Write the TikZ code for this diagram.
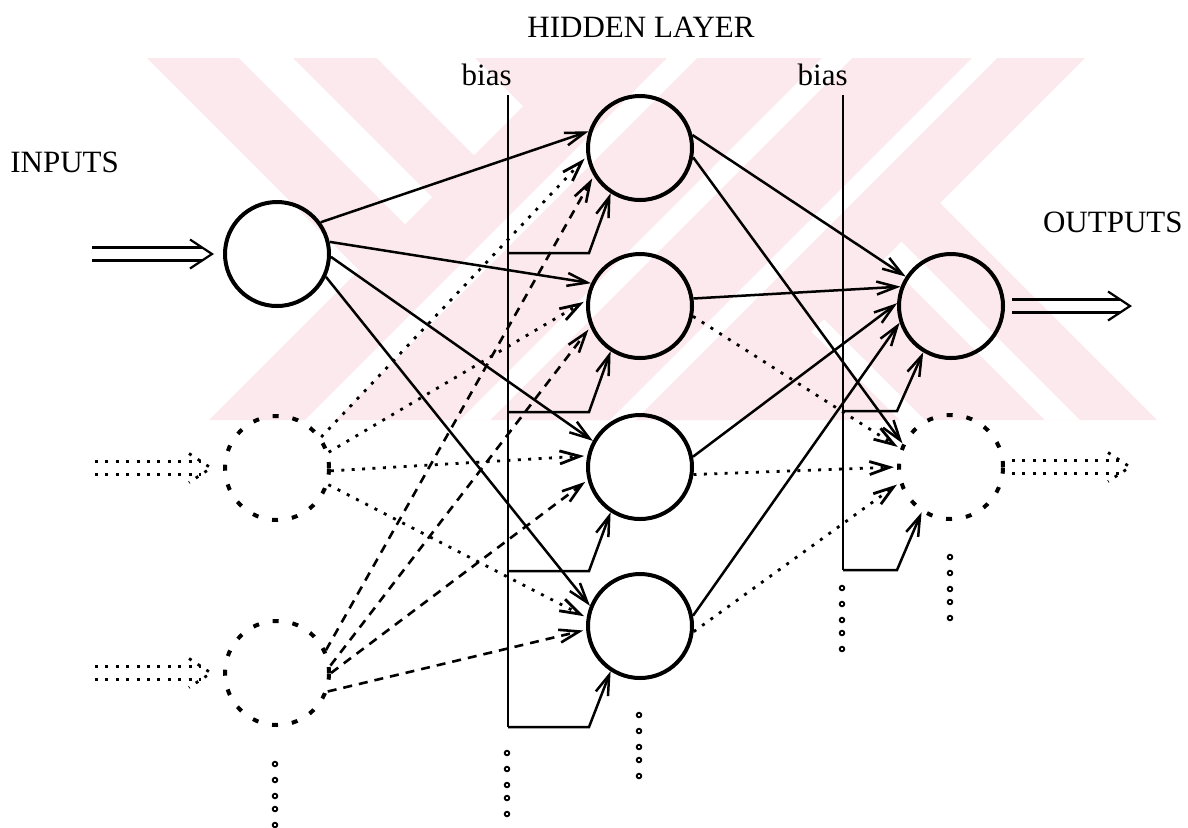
\documentclass[tikz,border=0pt]{standalone}
\usepackage{fontspec}
\setmainfont{Liberation Serif}
\usetikzlibrary{arrows.meta}
\definecolor{wmpink}{RGB}{252,233,237}
\newcommand\dblarrow[3]{%
  \draw[#1] ([yshift=3.25pt]#2) -- ([yshift=3.25pt,xshift=-4.9pt]#3);
  \draw[#1] ([yshift=-3.25pt]#2) -- ([yshift=-3.25pt,xshift=-4.9pt]#3);
  \draw[#1] ([xshift=-11pt,yshift=7.25pt]#3) -- (#3) -- ([xshift=-11pt,yshift=-7.25pt]#3);
}
\begin{document}
\begin{tikzpicture}[x=0.5pt,y=-0.5pt,
  neuron/.style={circle,draw,line width=2pt,minimum size=52pt,inner sep=0pt},
  dneuron/.style={neuron,dash pattern=on 3pt off 7pt},
  tipv/.style={-{Straight Barb[length=10pt,width=6.5pt]}},
  conn/.style={line width=1.25pt,tipv},
  dotconn/.style={conn,line width=1.4pt,dash pattern=on 1.5pt off 3.7pt,shorten >=1.5pt},
  dashconn/.style={conn,line width=1.3pt,dash pattern=on 4.5pt off 3.5pt,shorten >=1.5pt},
  biasline/.style={line width=1.2pt},
  dbl/.style={line width=1.1pt},
  dbldot/.style={line width=1.4pt,dash pattern=on 1.5pt off 3.7pt},
  lbl/.style={font=\fontsize{15.5}{18}\selectfont,inner sep=0pt},
  ring/.style={line width=0.9pt},
  wm/.style={fill=wmpink}
]
\useasboundingbox (0,0) rectangle (1188,827);

% watermark
\begin{scope}
  \clip (0,58) rectangle (1188,420);
  \fill[wm] (147,58) -- (795,58) -- (1157,420) -- (509,420) -- cycle;
  \fill[wm] (571,58) -- (1085,58) -- (723,420) -- (209,420) -- cycle;
  \begin{scope}
    \clip (0,0) -- (629,0) -- (0,629) -- cycle;
    \fill[white] (239,58) -- (293,58) -- (655,420) -- (601,420) -- cycle;
    \fill[white] (377,58) -- (475,58) -- (837,420) -- (739,420) -- cycle;
  \end{scope}
  \begin{scope}
    \clip (1143,0) -- (2000,0) -- (2000,1000) -- (143,1000) -- cycle;
    \fill[white] (538,58) -- (563,58) -- (925,420) -- (900,420) -- cycle;
    \fill[white] (683,58) -- (718,58) -- (1080,420) -- (1045,420) -- cycle;
  \end{scope}
  \fill[white] (667,58) -- (697,58) -- (335,420) -- (305,420) -- cycle;
  \fill[white] (822,58) -- (852,58) -- (490,420) -- (460,420) -- cycle;
  \fill[white] (972,58) -- (997,58) -- (635,420) -- (610,420) -- cycle;
\end{scope}

% labels
\node[lbl,anchor=base] (hl) at (641,37) {HIDDEN LAYER};
\node[lbl,anchor=base west] (inl) at (10,172) {INPUTS};
\node[lbl,anchor=base east] (outl) at (1183,232) {OUTPUTS};
\node[lbl,anchor=base east] (bl1) at (512,85) {bias};
\node[lbl,anchor=base east] (bl2) at (848,85) {bias};

% neurons
\node[neuron] (i1) at (277,254) {};
\node[dneuron] (i2) at (277,468) {};
\node[dneuron] (i3) at (277,673) {};
\node[neuron] (h1) at (640,148) {};
\node[neuron] (h2) at (640,306) {};
\node[neuron] (h3) at (640,467) {};
\node[neuron] (h4) at (640,626) {};
\node[neuron] (o1) at (951,306) {};
\node[dneuron] (o2) at (951,467) {};

% input / output double arrows
\coordinate (in1s) at (92,254);
\coordinate (in2s) at (95,468);
\coordinate (in3s) at (95,673);
\coordinate (in1t) at ([xshift=-5.5pt]i1.west);
\coordinate (in2t) at ([xshift=-6pt]i2.west);
\coordinate (in3t) at ([xshift=-6pt]i3.west);
\coordinate (out1s) at ([xshift=3.5pt]o1.east);
\coordinate (out2s) at ([xshift=3.5pt]o2.east);
\coordinate (out1t) at (1130,306);
\coordinate (out2t) at (1130,467);
\dblarrow{dbl}{in1s}{in1t}
\dblarrow{dbldot}{in2s}{in2t}
\dblarrow{dbldot}{in3s}{in3t}
\dblarrow{dbl}{out1s}{out1t}
\dblarrow{dbldot}{out2s}{out2t}

% input -> hidden
\draw[conn] (i1.36) -- (h1.162);
\draw[conn] (i1.13) -- (h2.155);
\draw[conn] (i1.-3) -- (h3.151);
\draw[conn] (i1.-25) -- (h4.158);
\draw[dotconn] (i2.35) -- (h1.189);
\draw[dotconn] (i2.17) -- (h2.174);
\draw[dotconn] (i2.-3) -- (h3.168);
\draw[dotconn] (i2.-18) -- (h4.171);
\draw[dashconn] (i3.25) -- (h1.211);
\draw[dashconn] (i3.8) -- (h2.203);
\draw[dashconn] (i3.0) -- (h3.194);
\draw[dashconn] (i3.-20) -- (h4.184);

% hidden -> output
\draw[conn] (h1.14) -- (o1.147);
\draw[conn] (h1.-10) -- (o2.154);
\draw[conn] (h2.8) -- (o1.159);
\draw[dotconn] (h2.-11) -- (o2.160);
\draw[conn] (h3.11) -- (o1.177);
\draw[dotconn] (h3.-8) -- (o2.180);
\draw[conn] (h4.11) -- (o1.198);
\draw[dotconn] (h4.-6) -- (o2.197);

% bias, hidden layer
\coordinate (b1t) at (508,95);
\coordinate (b1a) at (508,253);
\coordinate (b1b) at (508,412);
\coordinate (b1c) at (508,571);
\coordinate (b1d) at (508,727);
\coordinate (c1) at (589,253);
\coordinate (c2) at (589,412);
\coordinate (c3) at (589,571);
\coordinate (c4) at (589,727);
\draw[biasline] (b1t) -- (b1d);
\draw[conn] (b1a) -- (c1) -- (h1.237);
\draw[conn] (b1b) -- (c2) -- (h2.237);
\draw[conn] (b1c) -- (c3) -- (h3.237);
\draw[conn] (b1d) -- (c4) -- (h4.237);

% bias, output layer
\coordinate (b2t) at (843,95);
\coordinate (b2a) at (843,411);
\coordinate (b2b) at (843,570);
\coordinate (c5) at (897,411);
\coordinate (c6) at (897,570);
\draw[biasline] (b2t) -- (b2b);
\draw[conn] (b2a) -- (c5) -- (o1.239);
\draw[conn] (b2b) -- (c6) -- (o2.237);

% vertical ellipses
\foreach \x/\y in {275/764, 507/753, 639/715, 842/588, 950/557}
  \foreach \d in {0,16,32,45,61}
    \draw[ring] (\x,{\y+\d}) circle[radius=2.3];
\end{tikzpicture}
\end{document}
